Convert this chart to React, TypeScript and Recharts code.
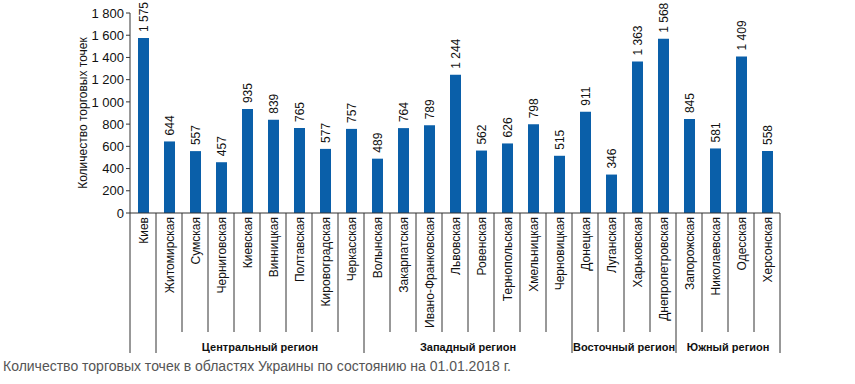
import { Bar, BarChart, LabelList, XAxis, YAxis } from "recharts";

const categories = [
  "Киев",
  "Житомирская", "Сумская", "Черниговская", "Киевская", "Винницкая", "Полтавская", "Кировоградская", "Черкасская",
  "Волынская", "Закарпатская", "Ивано-Франковская", "Львовская", "Ровенская", "Тернопольская", "Хмельницкая", "Черновицкая",
  "Донецкая", "Луганская", "Харьковская", "Днепропетровская",
  "Запорожская", "Николаевская", "Одесская", "Херсонская",
];
const values = [
  1575,
  644, 557, 457, 935, 839, 765, 577, 757,
  489, 764, 789, 1244, 562, 626, 798, 515,
  911, 346, 1363, 1568,
  845, 581, 1409, 558,
];
const regionNames = ["", "Центральный регион", "Западный регион", "Восточный регион", "Южный регион"];
const regionSizes = [1, 8, 8, 4, 4];
const yTicks = [0, 200, 400, 600, 800, 1000, 1200, 1400, 1600, 1800];

const data = categories.map((name, i) => ({ name, value: values[i] }));

// index of first category of every region
const regionStarts: number[] = [];
regionSizes.reduce((acc, s) => {
  regionStarts.push(acc);
  return acc + s;
}, 0);

const W = 855;
const H = 384;
const LEFT = 130;
const RIGHT = 75;
const TOP = 13;
const X_AXIS_H = 171;
const SLOT = (W - LEFT - RIGHT) / categories.length;
const FONT = "Arial, 'Liberation Sans', sans-serif";

const fmt = (v: number) => String(v).replace(/\B(?=(\d{3})+(?!\d))/g, " ");

function CategoryTick(props: any) {
  const { x, y, payload, index } = props;
  const i = index ?? payload.index;
  const left = x - SLOT / 2;
  const groupIdx = regionStarts.indexOf(i);
  const isStart = groupIdx >= 0;
  const shortEnd = y + 119;
  const longEnd = y + 140;
  return (
    <g>
      <line x1={left} x2={left} y1={y} y2={isStart ? longEnd : shortEnd} stroke="#333" strokeWidth={1} />
      {i === categories.length - 1 && (
        <line x1={x + SLOT / 2} x2={x + SLOT / 2} y1={y} y2={longEnd} stroke="#333" strokeWidth={1} />
      )}
      <text
        transform={`translate(${x + 4.5},${y + 4}) rotate(-90)`}
        textAnchor="end"
        fontSize={12}
        fontFamily={FONT}
        fill="#111"
      >
        {payload.value}
      </text>
      {isStart && regionNames[groupIdx] && (
        <text
          x={left + (regionSizes[groupIdx] * SLOT) / 2}
          y={y + 138}
          textAnchor="middle"
          fontSize={11}
          fontWeight="bold"
          fontFamily={FONT}
          fill="#111"
        >
          {regionNames[groupIdx]}
        </text>
      )}
    </g>
  );
}

function ValueLabel(props: any) {
  const { x, y, width, value } = props;
  const cx = x + width / 2;
  return (
    <text
      transform={`translate(${cx + 4.5},${y - 6}) rotate(-90)`}
      textAnchor="start"
      fontSize={12}
      fontFamily={FONT}
      fill="#111"
    >
      {fmt(value)}
    </text>
  );
}

function YTitle() {
  return (
    <text
      transform={`translate(87,${TOP + 100}) rotate(-90)`}
      textAnchor="middle"
      fontSize={12}
      fontFamily={FONT}
      fill="#111"
    >
      Количество торговых точек
    </text>
  );
}

export default function App() {
  return (
    <div style={{ position: "fixed", left: 0, top: 0, width: W, height: H, background: "#fff" }}>
      <BarChart
        width={W}
        height={H}
        data={data}
        margin={{ top: TOP, right: RIGHT, left: 0, bottom: 0 }}
        barCategoryGap={0}
      >
        <XAxis
          dataKey="name"
          interval={0}
          height={X_AXIS_H}
          tickLine={false}
          tickSize={0}
          tickMargin={0}
          axisLine={{ stroke: "#333" }}
          tick={<CategoryTick />}
        />
        <YAxis
          width={LEFT}
          domain={[0, 1800]}
          ticks={yTicks}
          interval={0}
          tickFormatter={fmt}
          tickSize={4}
          tickMargin={2}
          axisLine={{ stroke: "#333" }}
          tickLine={{ stroke: "#333" }}
          tick={{ fontSize: 13, fontFamily: FONT, fill: "#111" }}
          label={<YTitle />}
        />
        <Bar dataKey="value" fill="#0a5fa9" barSize={11} isAnimationActive={false}>
          <LabelList dataKey="value" content={<ValueLabel />} />
        </Bar>
      </BarChart>
      <div
        style={{
          position: "absolute",
          left: 3,
          top: 358,
          fontSize: 14,
          lineHeight: "16px",
          fontFamily: FONT,
          color: "#555",
          whiteSpace: "nowrap",
        }}
      >
        Количество торговых точек в областях Украины по состоянию на 01.01.2018 г.
      </div>
    </div>
  );
}
